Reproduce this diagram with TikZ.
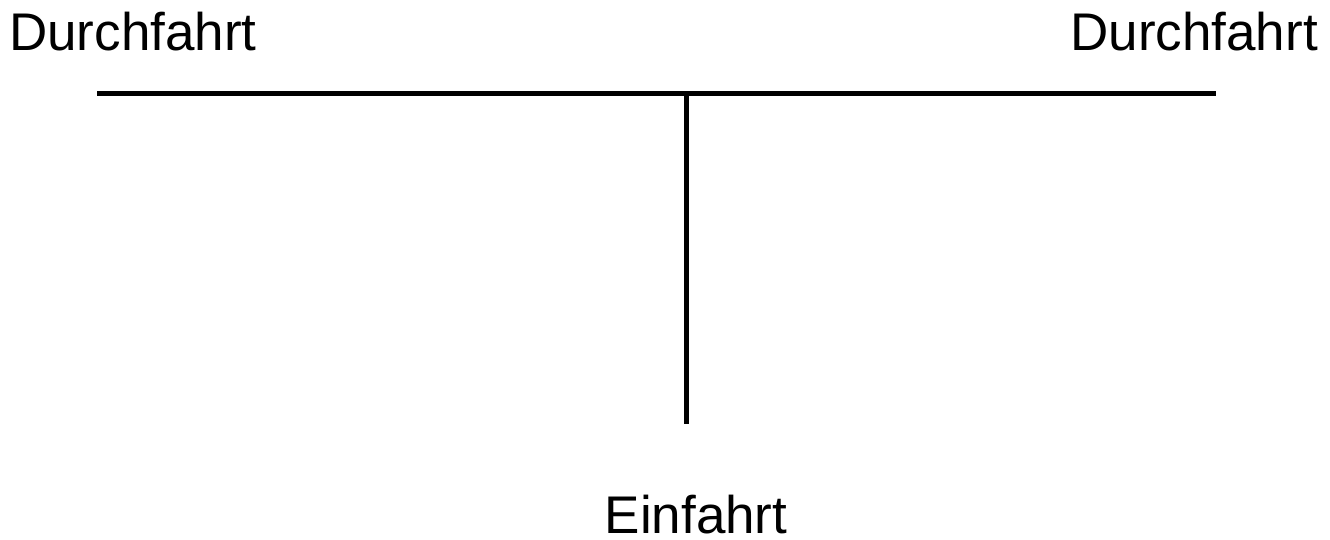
\documentclass[tikz,border=0pt]{standalone}
\usepackage{fontspec}
\setmainfont{Liberation Sans}
\begin{document}
\begin{tikzpicture}[x=1pt,y=-1pt,
  lbl/.style={font=\fontsize{53}{60}\selectfont, inner sep=0pt},
  road/.style={line width=5pt}]
\useasboundingbox (0,0) rectangle (1330,539);
\coordinate (L) at (97,93);
\coordinate (R) at (1216,93);
\coordinate (J) at (686,93);
\coordinate (B) at (686,424);
\node[lbl, anchor=base west] (dl) at (9,50) {Durchfahrt};
\node[lbl, anchor=base east] (dr) at (1318,50) {Durchfahrt};
\node[lbl, anchor=base] (ein) at (696,533) {Einfahrt};
\draw[road] (L) -- (R);
\draw[road] (J) -- (B);
\end{tikzpicture}
\end{document}
